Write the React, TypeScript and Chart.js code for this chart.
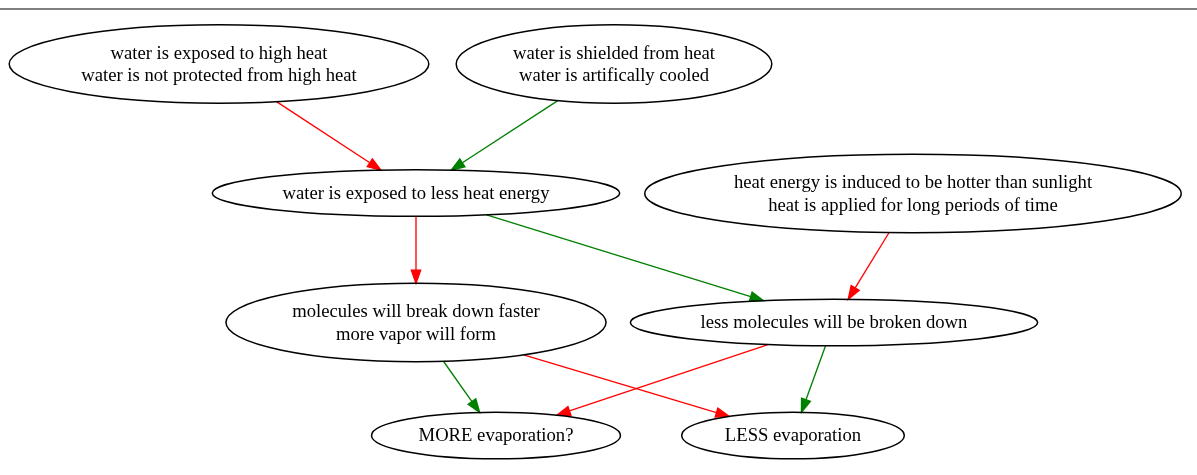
import { useEffect, useRef } from "react";
import { Chart, registerables } from "chart.js";

Chart.register(...registerables);

// ---- data ----
const nodeLabels: string[][] = [
  ["water is exposed to high heat", "water is not protected from high heat"],
  ["water is shielded from heat", "water is artifically cooled"],
  ["water is exposed to less heat energy"],
  ["heat energy is induced to be hotter than sunlight", "heat is applied for long periods of time"],
  ["molecules will break down faster", "more vapor will form"],
  ["less molecules will be broken down"],
  ["MORE evaporation?"],
  ["LESS evaporation"],
];
// layout positions of node centres (graph layout units)
const nodeX = [219, 614, 416, 913, 416, 834, 496, 793];
const nodeY = [64, 64, 193, 193.5, 322.5, 322.5, 435.5, 435.5];

const edgeFrom = [0, 1, 2, 2, 3, 4, 4, 5, 5];
const edgeTo = [2, 2, 4, 5, 5, 6, 7, 6, 7];
const edgeEffect = ["-", "+", "-", "+", "-", "+", "-", "-", "+"];

// ---- style ----
const FONT_SIZE = 18.67;
const LINE_H = FONT_SIZE * 1.2;
const FONT = `${FONT_SIZE}px "Liberation Serif", "Times New Roman", Times, serif`;
const MARGIN_X = 21.12;
const MARGIN_Y = 10.56;
const ARROW_LEN = 13.3;
const ARROW_HALF = 4.7;
const PEN = 1.33;
const NODE_PEN = 1.5;
const effectColor: Record<string, string> = { "+": "#008000", "-": "#ff0000" };

const graphPlugin = {
  id: "graphPlugin",
  beforeDraw(chart: any) {
    const ctx = chart.ctx;
    ctx.save();
    ctx.fillStyle = "#ffffff";
    ctx.fillRect(0, 0, chart.width, chart.height);
    ctx.fillStyle = "#808080";
    ctx.fillRect(0, 8, chart.width, 2);
    ctx.restore();
  },
  afterDatasetsDraw(chart: any) {
    const ctx: CanvasRenderingContext2D = chart.ctx;
    const xs = chart.scales.x;
    const ys = chart.scales.y;
    ctx.save();
    ctx.font = FONT;
    const geo = nodeLabels.map((lines, i) => {
      const w = Math.max(...lines.map((l) => ctx.measureText(l).width));
      return {
        cx: xs.getPixelForValue(nodeX[i]),
        cy: ys.getPixelForValue(nodeY[i]),
        rx: ((w + MARGIN_X) / 2) * Math.SQRT2,
        ry: ((lines.length * LINE_H + MARGIN_Y) / 2) * Math.SQRT2,
        lines,
      };
    });
    const boundary = (g: any, ux: number, uy: number) => {
      const s = 1 / Math.sqrt((ux / g.rx) ** 2 + (uy / g.ry) ** 2);
      return [g.cx + ux * s, g.cy + uy * s];
    };

    // edges
    edgeFrom.forEach((f, k) => {
      const a = geo[f];
      const b = geo[edgeTo[k]];
      const dx = b.cx - a.cx;
      const dy = b.cy - a.cy;
      const len = Math.hypot(dx, dy);
      const ux = dx / len;
      const uy = dy / len;
      const [sx, sy] = boundary(a, ux, uy);
      const [tx, ty] = boundary(b, -ux, -uy);
      const bx = tx - ux * ARROW_LEN;
      const by = ty - uy * ARROW_LEN;
      const col = effectColor[edgeEffect[k]];
      ctx.strokeStyle = col;
      ctx.fillStyle = col;
      ctx.lineWidth = PEN;
      ctx.beginPath();
      ctx.moveTo(sx, sy);
      ctx.lineTo(bx, by);
      ctx.stroke();
      const px = -uy;
      const py = ux;
      ctx.beginPath();
      ctx.moveTo(tx, ty);
      ctx.lineTo(bx + px * ARROW_HALF, by + py * ARROW_HALF);
      ctx.lineTo(bx - px * ARROW_HALF, by - py * ARROW_HALF);
      ctx.closePath();
      ctx.fill();
      ctx.stroke();
    });

    // nodes
    ctx.strokeStyle = "#000000";
    ctx.lineWidth = NODE_PEN;
    ctx.fillStyle = "#000000";
    ctx.textAlign = "center";
    ctx.textBaseline = "middle";
    geo.forEach((g) => {
      ctx.beginPath();
      ctx.ellipse(g.cx, g.cy, g.rx, g.ry, 0, 0, Math.PI * 2);
      ctx.stroke();
      g.lines.forEach((line: string, j: number) => {
        const y = g.cy + (j - (g.lines.length - 1) / 2) * LINE_H;
        ctx.fillText(line, g.cx, y + 1);
      });
    });
    ctx.restore();
  },
};

export default function App() {
  const canvasRef = useRef<HTMLCanvasElement | null>(null);

  useEffect(() => {
    document.body.style.margin = "0";
    const canvas = canvasRef.current;
    if (!canvas) return;
    const chart = new Chart(canvas, {
      type: "scatter",
      data: {
        datasets: [
          {
            data: nodeX.map((x, i) => ({ x, y: nodeY[i] })),
            pointRadius: 0,
            pointHoverRadius: 0,
          },
        ],
      },
      options: {
        animation: false,
        responsive: true,
        maintainAspectRatio: false,
        events: [],
        layout: { padding: 0 },
        plugins: { legend: { display: false }, tooltip: { enabled: false } },
        scales: {
          x: { type: "linear", min: 0, max: 1197, display: false },
          y: { type: "linear", min: 0, max: 475, reverse: true, display: false },
        },
      },
      plugins: [graphPlugin],
    });
    return () => chart.destroy();
  }, []);

  return (
    <div style={{ width: 1197, height: 475, position: "relative" }}>
      <canvas ref={canvasRef} />
    </div>
  );
}
